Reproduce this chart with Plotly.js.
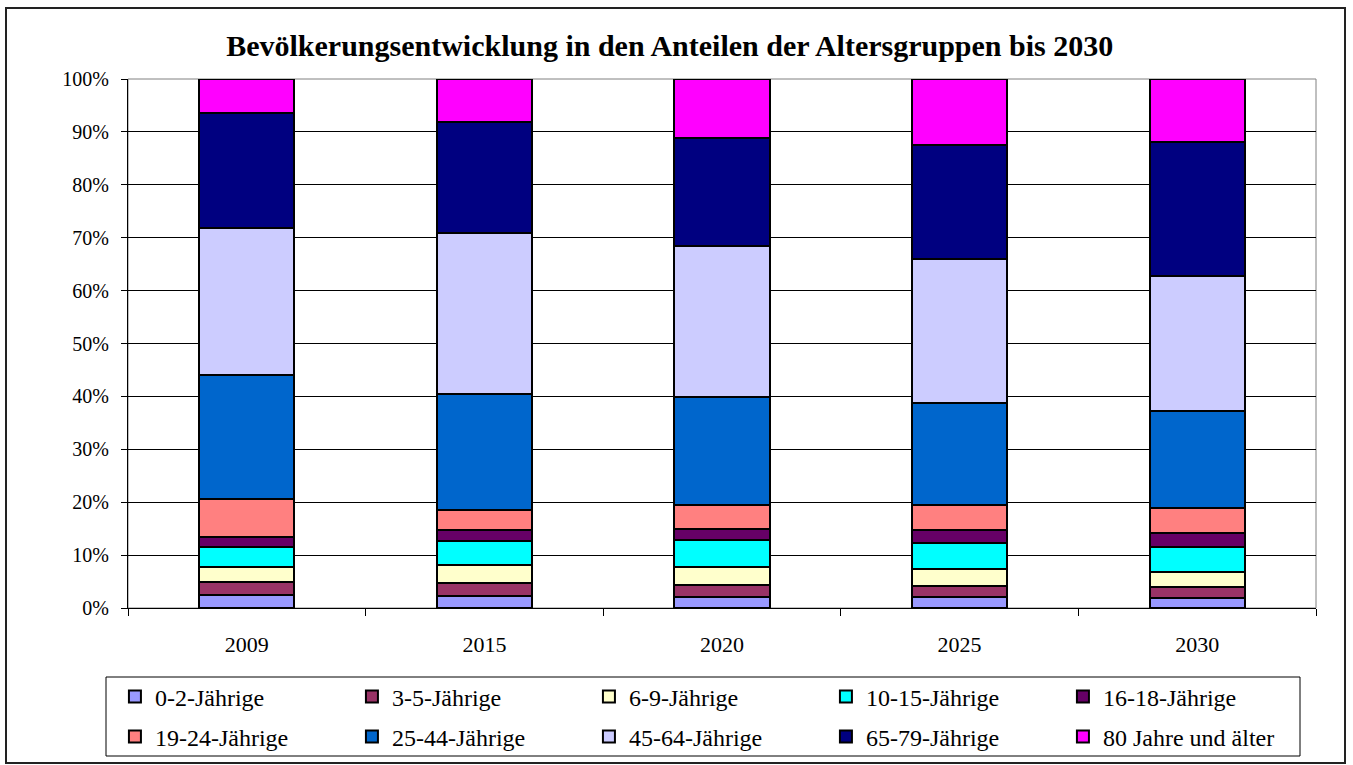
<!DOCTYPE html>
<html>
<head>
<meta charset="utf-8">
<script src="https://cdn.plot.ly/plotly-3.0.1.min.js"></script>
<style>
  body { margin: 0; background: #fff; }
  #frame { position: absolute; left: 5px; top: 7px; width: 1337px; height: 753px; border: 2px solid #222; }
  #chart { position: absolute; left: 0; top: 0; width: 1353px; height: 765px; }
</style>
</head>
<body>
<div id="frame"></div>
<div id="chart"></div>
<script>
// Jahre (Kategorien)
const years = ['2009', '2015', '2020', '2025', '2030'];

// Anteile der Altersgruppen in % je Jahr
const age0to2   = [2.5, 2.3, 2.1, 2.0, 1.9];
const age3to5   = [2.4, 2.5, 2.2, 2.2, 2.1];
const age6to9   = [2.9, 3.3, 3.5, 3.1, 2.9];
const age10to15 = [3.8, 4.5, 5.0, 4.9, 4.7];
const age16to18 = [1.9, 2.2, 2.2, 2.5, 2.5];
const age19to24 = [7.2, 3.8, 4.4, 4.7, 4.8];
const age25to44 = [23.3, 21.9, 20.4, 19.4, 18.3];
const age45to64 = [27.8, 30.3, 28.6, 27.2, 25.6];
const age65to79 = [21.8, 21.0, 20.4, 21.5, 25.2];
const age80plus = [6.4, 8.2, 11.2, 12.5, 12.0];

const groupNames = ['0-2-Jährige', '3-5-Jährige', '6-9-Jährige', '10-15-Jährige', '16-18-Jährige',
                    '19-24-Jährige', '25-44-Jährige', '45-64-Jährige', '65-79-Jährige', '80 Jahre und älter'];
const groupValues = [age0to2, age3to5, age6to9, age10to15, age16to18,
                     age19to24, age25to44, age45to64, age65to79, age80plus];
const groupColors = ['#9999FF', '#993366', '#FFFFCC', '#00FFFF', '#660066',
                     '#FF8080', '#0066CC', '#CCCCFF', '#000080', '#FF00FF'];

const FONT = 'Liberation Serif, Times New Roman, serif';
const W = 1353, H = 765;
const PLOT_W = 1188, PLOT_H = 529, PLOT_L = 128, PLOT_B = 608;

// ============== Balken ==============
const traces = groupNames.map((name, i) => ({
    type: 'bar',
    name: name,
    x: years,
    y: groupValues[i],
    width: 0.4,
    legend: i < 5 ? 'legend' : 'legend2',
    marker: { color: groupColors[i], line: { color: '#000', width: 2 } },
    hovertemplate: '%{x}: %{y:.1f}%<extra>' + name + '</extra>'
}));

// ============== Legende (zwei Zeilen) ==============
const legendBase = {
    orientation: 'h',
    xref: 'paper', yref: 'paper',
    x: -0.011, xanchor: 'left',
    yanchor: 'middle',
    entrywidth: 192, entrywidthmode: 'pixels',
    traceorder: 'normal',
    bgcolor: 'rgba(0,0,0,0)',
    borderwidth: 0,
    font: { family: FONT, size: 24, color: '#000' }
};

const layout = {
    width: W, height: H,
    margin: { l: 128, r: 37, t: 79, b: 157, autoexpand: false },
    paper_bgcolor: 'rgba(0,0,0,0)',
    plot_bgcolor: '#fff',
    barmode: 'stack',
    bargap: 0.6,
    font: { family: FONT, size: 20, color: '#000' },
    title: {
        text: '<b>Bevölkerungsentwicklung in den Anteilen der Altersgruppen bis 2030</b>',
        font: { family: FONT, size: 30, color: '#000' },
        x: 0.495, xanchor: 'center',
        y: 1 - 45 / H, yanchor: 'middle'
    },
    xaxis: {
        type: 'category',
        showline: true, linecolor: '#000', linewidth: 1,
        ticks: 'outside', tickson: 'boundaries', ticklen: 7, tickcolor: '#000',
        ticklabelstandoff: 17,
        tickfont: { family: FONT, size: 22 },
        showgrid: false,
        automargin: false
    },
    yaxis: {
        range: [0, 100],
        tickvals: [0, 10, 20, 30, 40, 50, 60, 70, 80, 90, 100],
        ticktext: ['0%', '10%', '20%', '30%', '40%', '50%', '60%', '70%', '80%', '90%', '100%'],
        showline: true, linecolor: '#000', linewidth: 1,
        ticks: 'outside', ticklen: 6, tickcolor: '#000',
        ticklabelstandoff: 8,
        tickfont: { family: FONT, size: 20 },
        showgrid: true, gridcolor: '#000', gridwidth: 1,
        zeroline: false,
        fixedrange: true,
        automargin: false
    },
    legend: Object.assign({}, legendBase, { y: (PLOT_B - 697) / PLOT_H }),
    legend2: Object.assign({}, legendBase, { y: (PLOT_B - 737) / PLOT_H }),
    shapes: [
        // Rahmen der Zeichenfläche
        { type: 'rect', xref: 'paper', yref: 'paper', x0: 0, x1: 1, y0: 0, y1: 1,
          line: { color: '#808080', width: 1 }, layer: 'below' },
        // Rahmen der Legende
        { type: 'rect', xref: 'paper', yref: 'paper',
          x0: (106 - PLOT_L) / PLOT_W, x1: (1300 - PLOT_L) / PLOT_W,
          y0: (PLOT_B - 756) / PLOT_H, y1: (PLOT_B - 677) / PLOT_H,
          line: { color: '#000', width: 1 } }
    ],
    showlegend: true
};

Plotly.newPlot('chart', traces, layout, { displayModeBar: false });
</script>
</body>
</html>
